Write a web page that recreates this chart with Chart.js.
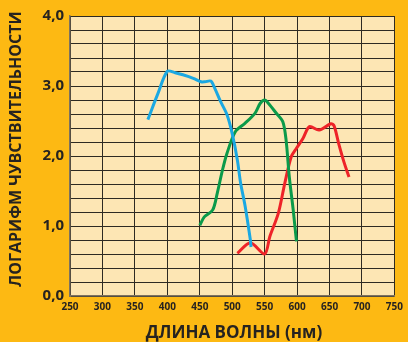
<!DOCTYPE html>
<html>
<head>
<meta charset="utf-8">
<script src="https://cdn.jsdelivr.net/npm/chart.js@4/dist/chart.umd.min.js"></script>
<style>
  html, body { margin: 0; padding: 0; background: #fdb913; }
  #wrap { width: 408px; height: 342px; }
</style>
</head>
<body>
<div id="wrap"><canvas id="c" width="408" height="342"></canvas></div>
<script>
// Spectral sensitivity of the three cone types (log scale)
const blueNm   = [370, 385, 400, 412, 424, 440, 452, 458, 467, 473, 482, 492, 500, 508, 513, 520, 528, 529];
const blueLog  = [2.52, 2.88, 3.21, 3.19, 3.16, 3.11, 3.06, 3.06, 3.07, 2.97, 2.78, 2.59, 2.32, 1.94, 1.61, 1.28, 0.80, 0.70];

const greenNm  = [450, 457, 470, 477, 485, 492, 505, 520, 535, 543, 550, 556, 568, 578, 583, 588, 594, 599];
const greenLog = [1.01, 1.13, 1.23, 1.47, 1.80, 2.04, 2.35, 2.47, 2.61, 2.75, 2.80, 2.75, 2.61, 2.49, 2.23, 1.70, 1.23, 0.78];

const redNm    = [508, 528, 550, 558, 571, 581, 591, 599, 609, 619, 634, 652, 657, 664, 672, 680];
const redLog   = [0.61, 0.76, 0.60, 0.85, 1.18, 1.61, 1.99, 2.11, 2.25, 2.42, 2.37, 2.46, 2.43, 2.18, 1.92, 1.70];

const xMin = 250, xMax = 750, xStep = 50;
const yMin = 0, yMax = 4, yStep = 0.2;

const xTitle = 'ДЛИНА ВОЛНЫ (нм)';
const yTitle = 'ЛОГАРИФМ ЧУВСТВИТЕЛЬНОСТИ';

const pts = (xs, ys) => xs.map((x, i) => ({ x: x, y: ys[i] }));

const backdrop = {
  id: 'backdrop',
  beforeDraw(chart) {
    const { ctx, chartArea: a } = chart;
    ctx.save();
    ctx.fillStyle = '#fdb913';
    ctx.fillRect(0, 0, chart.width, chart.height);
    ctx.fillStyle = '#fde6b4';
    ctx.fillRect(a.left, a.top, a.right - a.left, a.bottom - a.top);
    ctx.restore();
  },
  afterDraw(chart) {
    const { ctx, chartArea: a } = chart;
    ctx.save();
    ctx.fillStyle = '#262320';
    ctx.font = 'bold 17px "Open Sans", sans-serif';
    ctx.textAlign = 'center';
    ctx.textBaseline = 'middle';
    ctx.fillText(xTitle, 234, 333);
    ctx.translate(16, 149);
    ctx.rotate(-Math.PI / 2);
    ctx.font = 'bold 16px "Open Sans", sans-serif';
    ctx.fillText(yTitle, 0, 0);
    ctx.restore();
  }
};

new Chart(document.getElementById('c'), {
  type: 'line',
  data: {
    datasets: [
      { data: pts(blueNm, blueLog), borderColor: '#1ba8e2' },
      { data: pts(greenNm, greenLog), borderColor: '#0b9a4a' },
      { data: pts(redNm, redLog), borderColor: '#ee2328' }
    ].map(d => Object.assign(d, { borderWidth: 3, pointRadius: 0, tension: 0.3, fill: false }))
  },
  options: {
    responsive: false,
    animation: false,
    events: [],
    layout: { padding: { top: 16, right: 8, left: 0, bottom: 0 } },
    plugins: { legend: { display: false }, tooltip: { enabled: false } },
    scales: {
      x: {
        type: 'linear', min: xMin, max: xMax,
        afterFit(s) { s.height = 46; },
        ticks: {
          stepSize: xStep, padding: 5, color: '#262320',
          font: { family: '"Open Sans", sans-serif', size: 10, weight: 'bold' },
          maxRotation: 0, autoSkip: false
        },
        grid: { color: '#2e2a22', lineWidth: 1, drawTicks: false },
        border: { color: '#7d7260', width: 1.5 }
      },
      y: {
        min: yMin, max: yMax,
        afterFit(s) { s.width = 70; },
        ticks: {
          stepSize: yStep, padding: 6, color: '#262320', autoSkip: false,
          font: { family: '"Open Sans", sans-serif', size: 15, weight: 'bold' },
          callback(v) {
            return Math.abs(v - Math.round(v)) < 1e-6 ? Math.round(v).toFixed(1).replace('.', ',') : '';
          }
        },
        grid: { color: '#2e2a22', lineWidth: 1, drawTicks: false },
        border: { color: '#7d7260', width: 1.5 }
      }
    }
  },
  plugins: [backdrop]
});
</script>
</body>
</html>
